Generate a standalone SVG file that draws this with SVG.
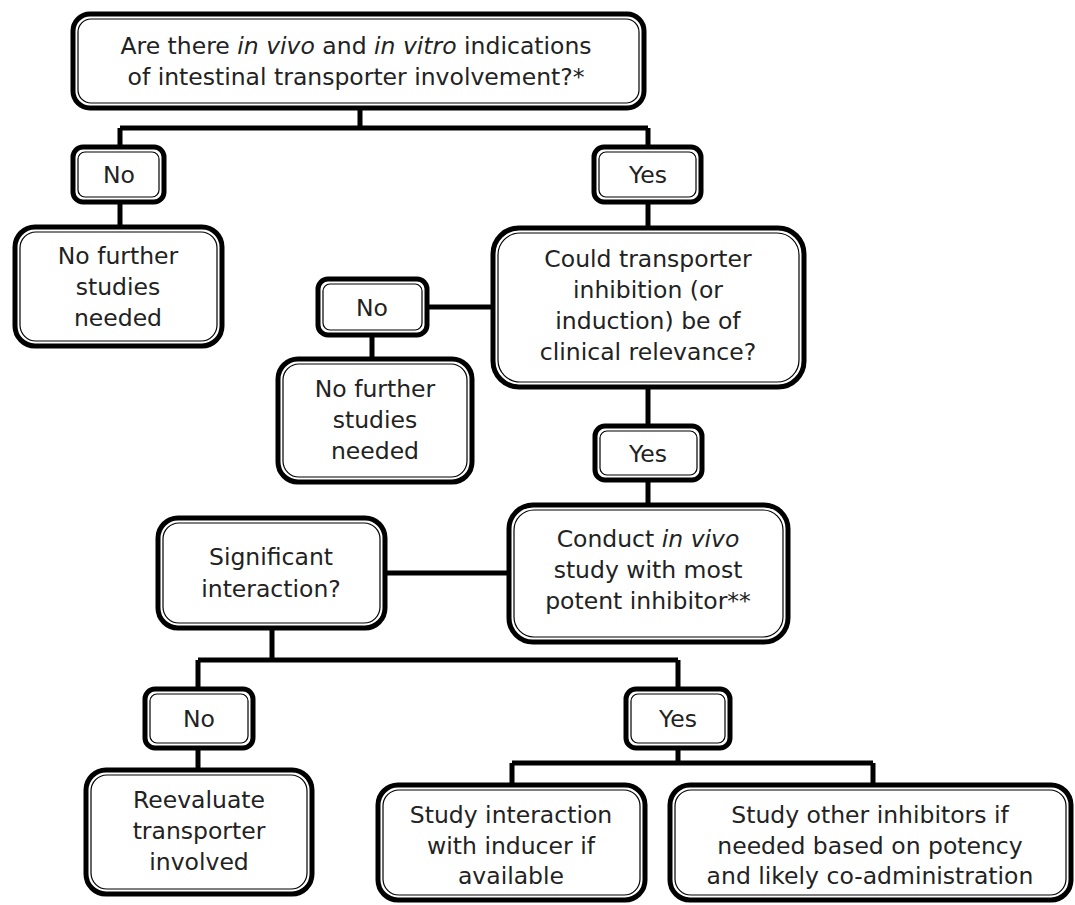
<svg xmlns="http://www.w3.org/2000/svg" width="1075" height="905" viewBox="0 0 1075 905">
<style>
.o{fill:#fff;stroke:#000;stroke-width:5}
.i{fill:none;stroke:#000;stroke-width:1.2}
.c{fill:none;stroke:#000;stroke-width:5}
text{font-family:"DejaVu Sans","Liberation Sans",sans-serif;font-size:23.5px;fill:#222;text-anchor:middle}
.it{font-style:italic}
</style>
<rect width="1075" height="905" fill="#fff"/>
<g id="connectors">
<path class="c" d="M360 108V128M120 128H648M120 128V147M648 128V147"/>
<path class="c" d="M120 202V227"/>
<path class="c" d="M648 202V228"/>
<path class="c" d="M427 307H493"/>
<path class="c" d="M372 335V359"/>
<path class="c" d="M648 387V426"/>
<path class="c" d="M648 480V505"/>
<path class="c" d="M385 573H509"/>
<path class="c" d="M272 628V660M198 660H678M198 660V689M678 660V689"/>
<path class="c" d="M198 748V770"/>
<path class="c" d="M678 748V763M512 763H873M512 763V785M873 763V785"/>
</g>
<g id="n_top">
<rect class="o" x="73" y="14" width="571" height="94" rx="17"/>
<rect class="i" x="78" y="19" width="561" height="84" rx="13"/>
<text x="356" y="54">Are there <tspan class="it">in vivo</tspan> and <tspan class="it">in vitro</tspan> indications</text>
<text x="356" y="85">of intestinal transporter involvement?*</text>
</g>
<g id="n_no1">
<rect class="o" x="73" y="147" width="91" height="55" rx="10"/>
<rect class="i" x="78" y="152" width="81" height="45" rx="7"/>
<text x="119" y="183">No</text>
</g>
<g id="n_yes1">
<rect class="o" x="594" y="147" width="107" height="55" rx="10"/>
<rect class="i" x="599" y="152" width="97" height="45" rx="7"/>
<text x="648" y="183">Yes</text>
</g>
<g id="n_nf1">
<rect class="o" x="15" y="227" width="207" height="119" rx="20"/>
<rect class="i" x="20" y="232" width="197" height="109" rx="16"/>
<text x="118" y="264">No further</text>
<text x="118" y="295">studies</text>
<text x="118" y="326">needed</text>
</g>
<g id="n_could">
<rect class="o" x="493" y="228" width="311" height="159" rx="26"/>
<rect class="i" x="498" y="233" width="301" height="149" rx="22"/>
<text x="648" y="267">Could transporter</text>
<text x="648" y="298">inhibition (or</text>
<text x="648" y="329">induction) be of</text>
<text x="648" y="360">clinical relevance?</text>
</g>
<g id="n_no2">
<rect class="o" x="318" y="279" width="109" height="56" rx="10"/>
<rect class="i" x="323" y="284" width="99" height="46" rx="7"/>
<text x="372" y="316">No</text>
</g>
<g id="n_nf2">
<rect class="o" x="278" y="359" width="194" height="123" rx="20"/>
<rect class="i" x="283" y="364" width="184" height="113" rx="16"/>
<text x="375" y="397">No further</text>
<text x="375" y="428">studies</text>
<text x="375" y="459">needed</text>
</g>
<g id="n_yes2">
<rect class="o" x="595" y="426" width="107" height="54" rx="10"/>
<rect class="i" x="600" y="431" width="97" height="44" rx="7"/>
<text x="648" y="462">Yes</text>
</g>
<g id="n_conduct">
<rect class="o" x="509" y="505" width="279" height="137" rx="24"/>
<rect class="i" x="514" y="510" width="269" height="127" rx="20"/>
<text x="648" y="547">Conduct <tspan class="it">in vivo</tspan></text>
<text x="648" y="578">study with most</text>
<text x="648" y="609">potent inhibitor**</text>
</g>
<g id="n_sig">
<rect class="o" x="158" y="518" width="227" height="110" rx="20"/>
<rect class="i" x="163" y="523" width="217" height="100" rx="16"/>
<text x="271" y="565">Significant</text>
<text x="271" y="597">interaction?</text>
</g>
<g id="n_no3">
<rect class="o" x="145" y="689" width="108" height="59" rx="10"/>
<rect class="i" x="150" y="694" width="98" height="49" rx="7"/>
<text x="199" y="727">No</text>
</g>
<g id="n_yes3">
<rect class="o" x="626" y="689" width="104" height="59" rx="10"/>
<rect class="i" x="631" y="694" width="94" height="49" rx="7"/>
<text x="678" y="727">Yes</text>
</g>
<g id="n_reeval">
<rect class="o" x="86" y="770" width="226" height="124" rx="20"/>
<rect class="i" x="91" y="775" width="216" height="114" rx="16"/>
<text x="199" y="808">Reevaluate</text>
<text x="199" y="839">transporter</text>
<text x="199" y="870">involved</text>
</g>
<g id="n_inducer">
<rect class="o" x="378" y="785" width="267" height="115" rx="20"/>
<rect class="i" x="383" y="790" width="257" height="105" rx="16"/>
<text x="511" y="823">Study interaction</text>
<text x="511" y="854">with inducer if</text>
<text x="511" y="884">available</text>
</g>
<g id="n_other">
<rect class="o" x="670" y="785" width="401" height="115" rx="20"/>
<rect class="i" x="675" y="790" width="391" height="105" rx="16"/>
<text x="870" y="823">Study other inhibitors if</text>
<text x="870" y="854">needed based on potency</text>
<text x="870" y="884">and likely co-administration</text>
</g>
</svg>
